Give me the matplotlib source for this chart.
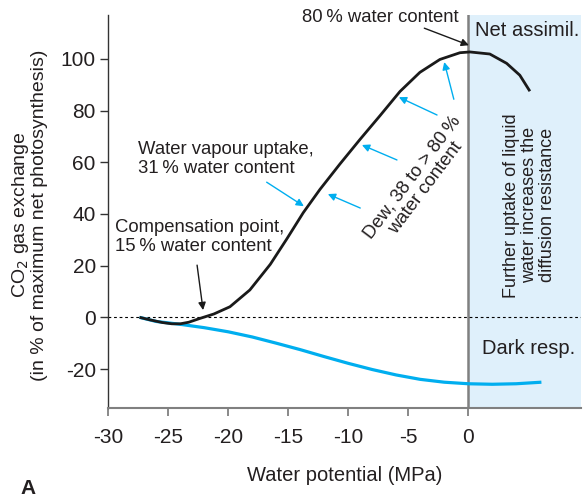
import matplotlib
matplotlib.use("Agg")
import matplotlib.pyplot as plt

plt.rcParams["font.family"] = ["Liberation Sans", "DejaVu Sans"]

# Net assimilation curve (black)
net_x = [-27.4, -26.5, -25.5, -24.7, -24.0, -23.3, -22.35, -21.2, -19.86, -18.2,
         -16.5, -15.1, -13.75, -12.36, -10.7, -9.03, -7.36, -5.69, -4.03, -2.36,
         -0.69, 0.14, 1.8, 3.2, 4.3, 5.14]
net_y = [0.0, -1.0, -2.0, -2.5, -2.5, -1.9, -0.4, 1.3, 4.1, 10.6,
         20.5, 30.5, 40.5, 49.5, 59.3, 68.8, 78.0, 87.4, 94.8, 99.8,
         102.4, 102.7, 101.9, 98.3, 93.7, 87.5]

# Dark respiration curve (blue)
resp_x = [-27.4, -26.0, -24.0, -22.0, -20.0, -18.0, -16.0, -14.0, -12.0, -10.0,
          -8.0, -6.0, -4.0, -2.0, 0.0, 2.0, 4.0, 6.1]
resp_y = [0.0, -1.6, -2.7, -4.0, -5.6, -7.6, -10.0, -12.5, -15.2, -17.8,
          -20.2, -22.3, -24.0, -25.1, -25.7, -25.9, -25.7, -25.1]

x_ticks = [-30, -25, -20, -15, -10, -5, 0]
y_ticks = [-20, 0, 20, 40, 60, 80, 100]

txt = "#231f20"
blue = "#00aeef"

fig = plt.figure(figsize=(5.83, 4.99), dpi=100)
ax = fig.add_axes([108.3 / 583, 1 - 408.3 / 499, (581 - 108.3) / 583, (408.3 - 15) / 499])
ax.set_xlim(-30, 9.4)
ax.set_ylim(-35.2, 117)

# shaded "liquid water" region right of 0 MPa
ax.axvspan(0, 9.4, color="#dff0fb", zorder=0, lw=0)
ax.axvline(0, color="#808080", lw=1.8, zorder=1)
ax.axhline(0, color="black", lw=0.8, ls=(0, (2.5, 2.5)), zorder=1)

ax.plot(resp_x, resp_y, color=blue, lw=2.3, solid_capstyle="butt",
        solid_joinstyle="round", zorder=3)
ax.plot(net_x, net_y, color="#1a1a1a", lw=2.0, solid_capstyle="butt",
        solid_joinstyle="round", zorder=4)

for s in ["top", "right"]:
    ax.spines[s].set_visible(False)
ax.spines["bottom"].set_color("#808080")
ax.spines["bottom"].set_linewidth(1.5)
ax.spines["left"].set_color("#333333")
ax.spines["left"].set_linewidth(1.0)

ax.set_xticks(x_ticks)
ax.set_yticks(y_ticks)
ax.set_xticklabels([str(v) for v in x_ticks])
ax.set_yticklabels([str(v) for v in y_ticks])
ax.tick_params(axis="x", colors="#808080", length=6, width=1.3, labelsize=15,
               labelcolor=txt, pad=8)
ax.tick_params(axis="y", colors="#333333", length=6, width=1.0, labelsize=15,
               labelcolor=txt, pad=3)

ax.set_xlabel("Water potential (MPa)", fontsize=14.5, color=txt, labelpad=14)
fig.text(29 / 583, 1 - 215 / 499,
         "CO$_2$ gas exchange\n(in % of maximum net photosynthesis)",
         rotation=90, ha="center", va="center", multialignment="center",
         fontsize=14, color=txt, linespacing=1.05)
fig.text(20 / 583, 1 - 488 / 499, "A", fontsize=15, fontweight="bold",
         color=txt, ha="left", va="center")

fs = 13.3
ax.text(-7.36, 116.2, "80\u2009% water content", fontsize=fs, color=txt,
        ha="center", va="center", clip_on=False)
ax.text(4.9, 111, "Net assimil.", fontsize=14.5, color=txt, ha="center", va="center")
ax.text(-27.5, 61.2, "Water vapour uptake,\n31\u2009% water content", fontsize=fs,
        color=txt, ha="left", va="center", linespacing=1.15)
ax.text(-29.43, 31.1, "Compensation point,\n15\u2009% water content", fontsize=fs,
        color=txt, ha="left", va="center", linespacing=1.15)
ax.text(-4.1, 52.0, "Dew, 38 to > 80\u2009%\nwater content", fontsize=fs, color=txt,
        rotation=53, rotation_mode="anchor", ha="center", va="center",
        multialignment="center", linespacing=1.05)
ax.text(5.1, 43.4, "Further uptake of liquid\nwater increases the\ndiffusion resistance",
        fontsize=13, color=txt, rotation=90, ha="center", va="center",
        multialignment="center", linespacing=1.05)
ax.text(5.05, -11.9, "Dark resp.", fontsize=14.5, color=txt, ha="center", va="center")

def arrow(start, end, color):
    ax.annotate("", xy=end, xytext=start,
                arrowprops=dict(arrowstyle="-|>", color=color, lw=1.0,
                                mutation_scale=11, shrinkA=0, shrinkB=0),
                annotation_clip=False, zorder=5)

arrow((-3.66, 111.9), (0.06, 105.3), "#1a1a1a")
arrow((-22.6, 20.2), (-22.1, 2.8), "#1a1a1a")
arrow((-16.8, 52.3), (-13.7, 43.0), blue)
arrow((-9.0, 42.3), (-11.7, 47.7), blue)
arrow((-5.94, 60.9), (-8.86, 66.7), blue)
arrow((-2.6, 78.3), (-5.78, 85.2), blue)
arrow((-1.2, 84.4), (-2.0, 98.8), blue)

fig.savefig("out.png", dpi=100)
